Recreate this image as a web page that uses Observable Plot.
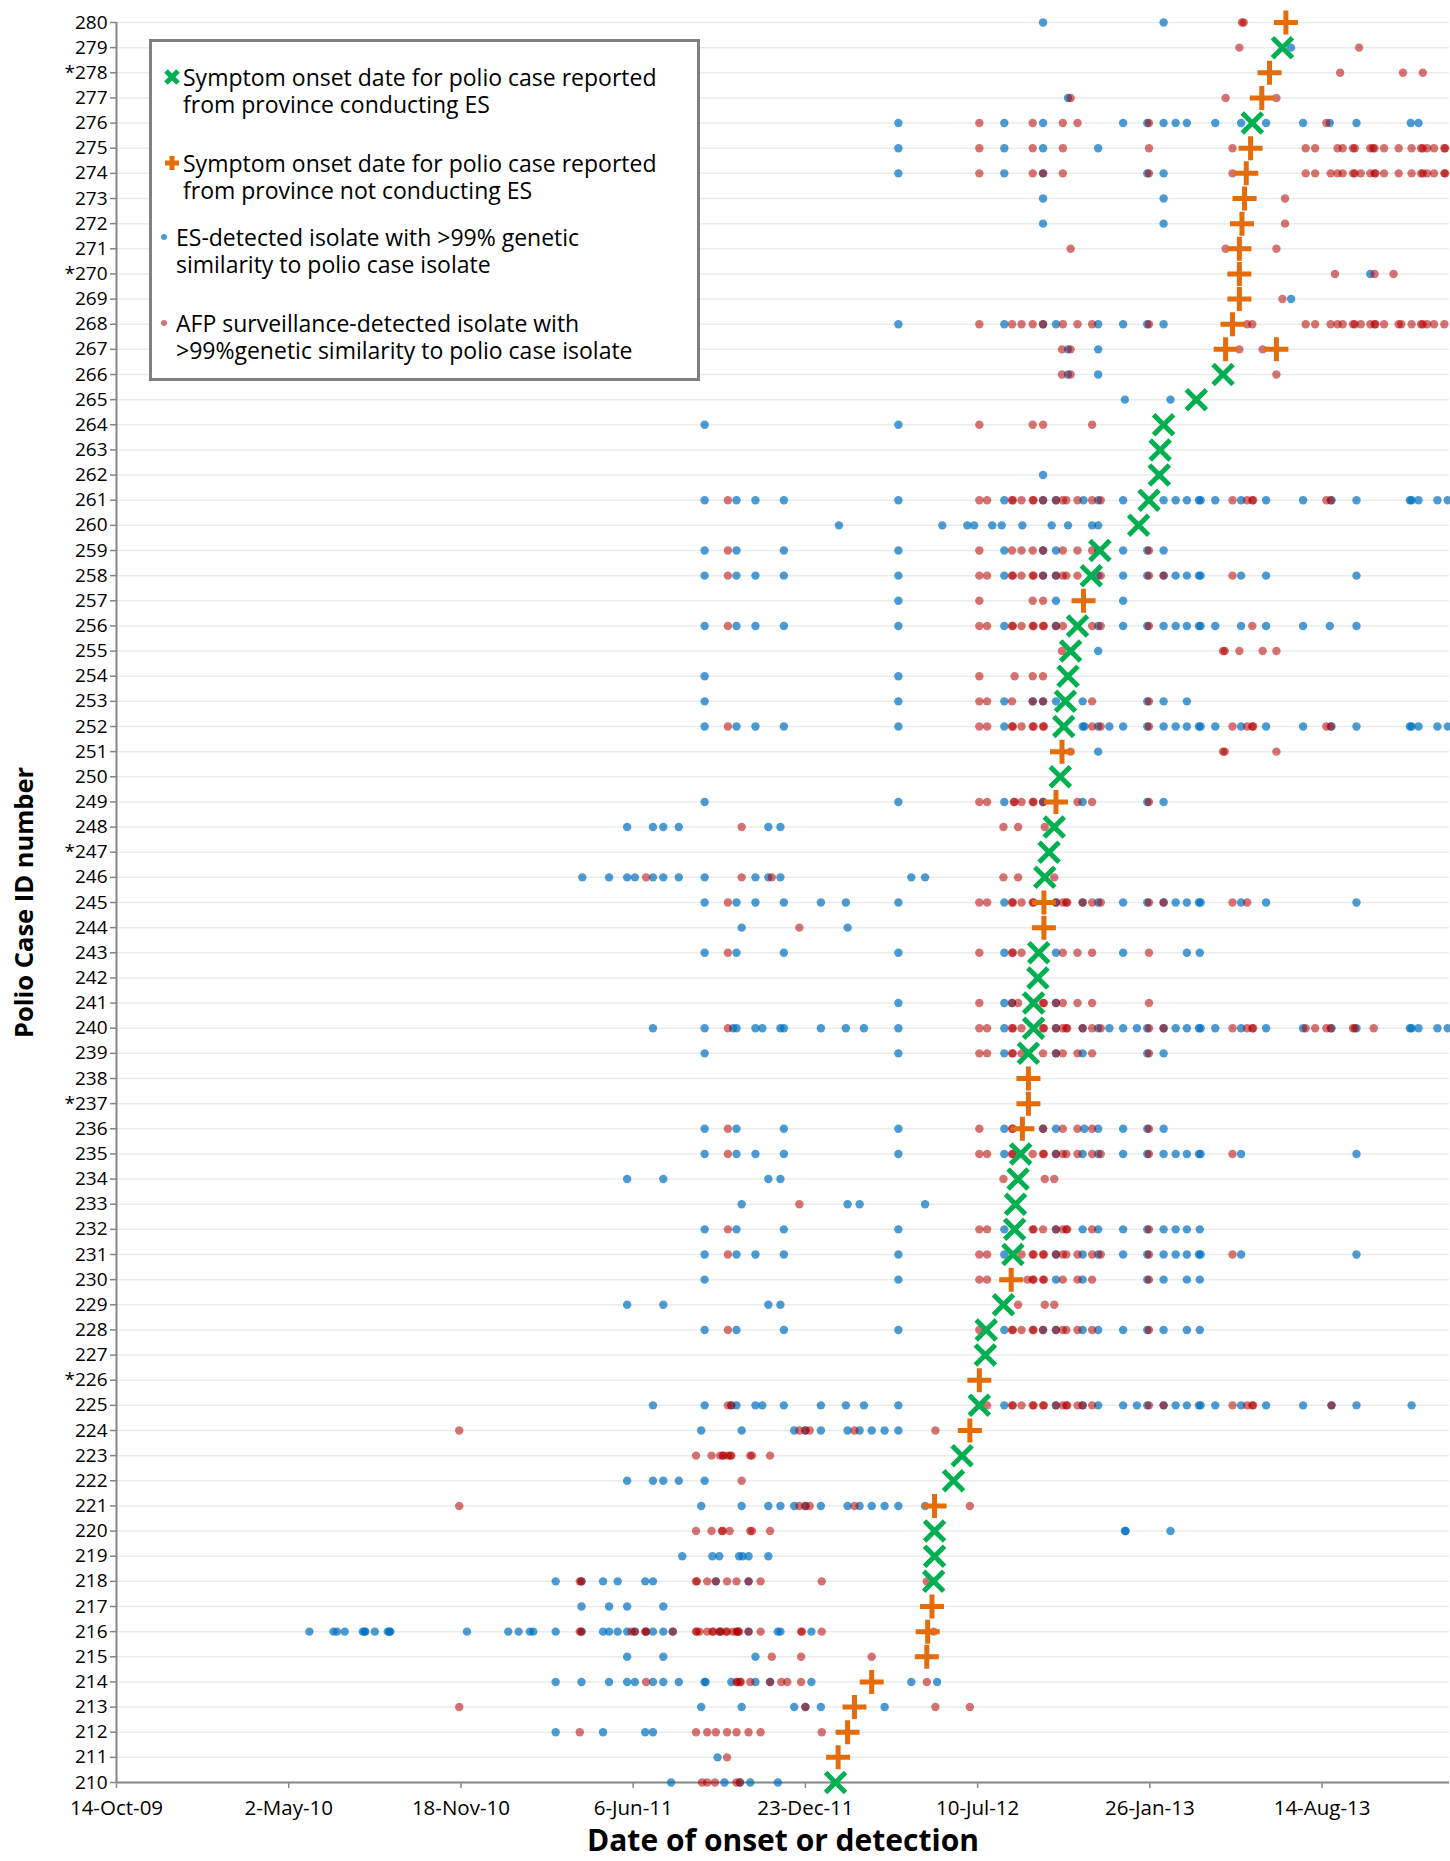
<!DOCTYPE html>
<html><head><meta charset="utf-8">
<script src="https://cdn.jsdelivr.net/npm/d3@7"></script>
<script src="https://cdn.jsdelivr.net/npm/@observablehq/plot@0.6"></script>
<style>
body{margin:0;background:#fff;font-family:"Open Sans",sans-serif;}
#wrap{position:relative;width:1450px;height:1861px;}
#legend{position:absolute;left:149px;top:39px;width:551px;height:342px;box-sizing:border-box;border:3px solid #808080;background:#fff;}
.line{position:absolute;font-size:23px;line-height:26px;height:26px;color:#000;white-space:nowrap;}
.sym{position:absolute;overflow:visible;}
g[aria-label="x-axis tick label"], g[aria-label="x-axis"] text {font-size:20.5px;}
g[aria-label="x-axis tick"], g[aria-label="y-axis tick"] {stroke:#868686;stroke-width:1.5;}
</style></head>
<body><div id="wrap"></div>
<script>
// values are days since 14-Oct-2009
const caseIds = d3.range(210, 281);
const starredIds = [226, 237, 247, 270, 278];
const tickDays = [0, 200, 400, 600, 800, 1000, 1200, 1400];

const onsetConductingES = [[210,835],[218,949],[219,950],[220,950],[222,972],[223,982],[225,1002],[227,1009],[228,1010],[229,1030],[231,1041],[232,1043],[233,1044],[234,1047],[235,1050],[239,1059],[240,1065],[241,1065],[242,1070],[243,1071],[246,1078],[247,1083],[248,1089],[250,1096],[252,1100],[253,1102],[254,1105],[255,1108],[256,1116],[258,1132],[259,1142],[260,1187],[261,1199],[262,1211],[263,1212],[264,1216],[265,1254],[266,1285],[276,1319],[279,1354]];

const onsetNotConductingES = [[211,838],[212,849],[213,857],[214,877],[215,941],[216,942],[217,947],[221,950],[224,991],[226,1002],[230,1039],[236,1052],[237,1059],[238,1059],[244,1077],[245,1077],[249,1091],[251,1098],[257,1123],[267,1288],[267,1347],[268,1296],[269,1304],[270,1304],[271,1304],[272,1307],[273,1310],[274,1312],[275,1317],[277,1330],[278,1339],[280,1358]];

const esIsolates = [
[280,[1076,1216]],
[279,[1364]],
[277,[1105]],
[276,[908,1031,1076,1169,1197,1216,1230,1243,1276,1306,1335,1378,1409,1440,1503,1512]],
[275,[908,1031,1076,1140]],
[274,[908,1031,1076,1197,1216]],
[273,[1076,1216]],
[272,[1076,1216]],
[270,[1456]],
[269,[1364]],
[268,[908,1031,1076,1091,1140,1169,1197,1216]],
[267,[1105,1140]],
[266,[1105,1140]],
[265,[1171,1224]],
[264,[683,908]],
[262,[1076]],
[261,[683,720,742,775,908,1031,1076,1091,1123,1140,1169,1216,1230,1243,1257,1259,1276,1306,1335,1378,1411,1440,1502,1504,1512,1534,1546]],
[260,[839,959,988,996,1017,1028,1052,1086,1105,1133,1140]],
[259,[683,720,775,908,1031,1076,1091,1140,1169,1197,1216]],
[258,[683,720,742,775,908,1031,1076,1091,1140,1169,1197,1216,1230,1243,1257,1259,1306,1335,1440]],
[257,[908,1091,1169]],
[256,[683,720,742,775,908,1031,1091,1140,1169,1197,1216,1230,1243,1257,1259,1276,1306,1335,1378,1409,1440]],
[255,[1140]],
[254,[683,908]],
[253,[683,908,1031,1064,1076,1091,1122,1197,1216,1243]],
[252,[683,720,742,775,908,1031,1122,1124,1140,1153,1169,1197,1216,1230,1243,1257,1259,1276,1306,1335,1378,1411,1440,1502,1504,1512,1534,1546]],
[251,[1140]],
[249,[683,908,1031,1076,1122,1197,1216]],
[248,[593,623,635,653,757,771]],
[246,[541,572,593,602,623,635,653,683,742,757,771,923,939]],
[245,[683,720,742,775,818,847,908,1031,1091,1122,1140,1169,1197,1216,1230,1243,1257,1259,1306,1335,1440]],
[244,[726,849]],
[243,[683,720,775,908,1031,1091,1169,1243,1258]],
[241,[908,1031,1040,1091]],
[240,[623,683,716,720,742,750,771,775,818,847,868,908,1031,1091,1122,1140,1153,1169,1185,1197,1216,1230,1243,1257,1259,1276,1306,1335,1378,1411,1440,1502,1504,1512,1534,1546]],
[239,[683,908,1031,1091,1122,1197,1216]],
[236,[683,720,775,908,1031,1076,1091,1124,1140,1169,1197,1216]],
[235,[683,720,742,775,908,1031,1091,1122,1140,1169,1197,1216,1230,1243,1257,1259,1306,1440]],
[234,[593,635,757,771]],
[233,[726,849,863,939]],
[232,[683,720,775,908,1031,1091,1122,1140,1169,1197,1216,1230,1243,1258]],
[231,[683,720,742,775,908,1031,1091,1122,1140,1169,1197,1216,1230,1243,1257,1259,1306,1440]],
[230,[683,908,1091,1122,1197,1216,1243,1258]],
[229,[593,635,757,771]],
[228,[683,720,775,908,1031,1076,1091,1122,1140,1169,1197,1216,1243,1258]],
[225,[623,683,714,720,742,750,775,818,847,868,908,1031,1091,1122,1140,1169,1185,1197,1216,1230,1243,1257,1259,1276,1306,1335,1378,1411,1440,1504]],
[224,[679,726,787,800,818,849,863,877,892,908]],
[222,[593,623,635,653,683]],
[221,[679,726,757,771,787,800,818,849,863,877,892,908,939]],
[220,[1171,1172,1224]],
[219,[657,692,700,723,727,734,757]],
[218,[510,540,565,582,614,623,696,734]],
[217,[540,572,593,635]],
[216,[224,252,256,265,286,288,289,300,315,317,318,407,455,467,480,484,510,540,565,572,582,593,602,615,623,635,646,701,734,768,771,807]],
[215,[593,635,742]],
[214,[510,540,572,593,602,623,635,653,683,684,714,742,759,807,923,953]],
[213,[679,726,787,800,818,892]],
[212,[510,565,614,623]],
[211,[698]],
[210,[644,706,724,736,768]]
];

const afpIsolates = [
[280,[1307,1309]],
[279,[1304,1443]],
[278,[1421,1494,1517]],
[277,[1108,1288,1347]],
[276,[1002,1064,1099,1116,1199,1405]],
[275,[1002,1064,1099,1199,1296,1381,1392,1418,1424,1436,1438,1456,1459,1461,1472,1489,1504,1515,1517,1522,1530,1542,1543]],
[274,[1002,1064,1076,1099,1199,1296,1381,1392,1410,1418,1424,1436,1438,1445,1456,1461,1462,1472,1489,1504,1515,1517,1522,1530,1542,1543]],
[273,[1357]],
[272,[1357]],
[271,[1108,1288,1347]],
[270,[1415,1461,1483]],
[269,[1354]],
[268,[1002,1040,1051,1064,1076,1099,1116,1133,1199,1313,1319,1381,1392,1410,1418,1424,1436,1438,1445,1456,1461,1462,1472,1489,1492,1504,1515,1517,1522,1530,1542]],
[267,[1098,1108,1304,1331]],
[266,[1098,1108,1347]],
[264,[1002,1064,1076,1133]],
[261,[710,1002,1011,1040,1041,1051,1064,1065,1076,1091,1099,1103,1116,1133,1143,1296,1313,1319,1320,1405,1410]],
[259,[710,1002,1040,1051,1064,1076,1099,1116,1133,1199]],
[258,[710,1002,1011,1040,1041,1051,1064,1065,1076,1091,1099,1103,1116,1143,1199,1216,1296]],
[257,[1002,1064,1076]],
[256,[710,1002,1011,1040,1041,1051,1064,1065,1076,1077,1091,1099,1133,1143,1199,1319]],
[255,[1098,1285,1287,1304,1331,1347]],
[254,[1002,1043,1064,1076]],
[253,[1002,1011,1040,1064,1076,1133,1199]],
[252,[710,1002,1011,1040,1041,1051,1064,1065,1076,1077,1133,1143,1199,1296,1313,1319,1320,1405,1410]],
[251,[1108,1285,1287,1347]],
[249,[1002,1011,1042,1043,1051,1064,1065,1076,1116,1133,1199]],
[248,[726,1030,1047,1078]],
[246,[615,726,761,1030,1047,1089]],
[245,[710,1002,1011,1040,1041,1051,1064,1065,1091,1099,1103,1104,1122,1133,1143,1199,1216,1296,1313]],
[244,[793]],
[243,[710,1002,1040,1041,1051,1099,1116,1133,1199]],
[241,[1002,1040,1047,1076,1077,1091,1099,1116,1133,1199]],
[240,[710,1002,1011,1040,1041,1051,1076,1077,1091,1099,1103,1104,1122,1133,1143,1199,1216,1296,1313,1319,1320,1381,1392,1405,1410,1436,1438,1460]],
[239,[1002,1011,1040,1041,1051,1076,1091,1099,1116,1133,1199]],
[236,[710,1002,1040,1041,1076,1099,1116,1133,1199]],
[235,[710,1002,1011,1040,1041,1064,1076,1077,1091,1099,1103,1116,1133,1143,1199,1296]],
[234,[1030,1078,1089]],
[233,[793]],
[232,[710,1002,1011,1064,1065,1076,1091,1099,1103,1104,1133,1199]],
[231,[710,1002,1011,1051,1064,1065,1076,1077,1091,1099,1103,1116,1133,1143,1199,1296]],
[230,[1002,1011,1058,1064,1065,1076,1077,1099,1116,1133,1199]],
[229,[1047,1078,1089]],
[228,[710,1002,1040,1041,1051,1064,1065,1076,1091,1099,1103,1116,1133,1199]],
[225,[710,714,1011,1040,1041,1051,1064,1065,1076,1077,1091,1099,1103,1104,1116,1122,1133,1199,1216,1296,1313,1319,1320,1411]],
[224,[398,793,800,805,857,951]],
[223,[673,691,701,704,705,710,713,714,736,738,759]],
[222,[726]],
[221,[398,793,800,805,857,991]],
[220,[673,691,703,704,712,736,738,759]],
[218,[538,540,673,674,686,696,709,720,734,748,819,941]],
[216,[538,540,598,602,614,615,646,673,674,677,686,692,693,700,702,708,709,716,720,721,722,723,734,748,795,796,819,949]],
[215,[761,795,877]],
[214,[615,720,721,724,725,736,759,772,779,795,941]],
[213,[398,800,951,991]],
[212,[538,673,686,696,709,720,734,748,819]],
[211,[709]],
[210,[680,686,695,720,724]]
];

const legendLabels = [
  ["Symptom onset date for polio case reported", "from province conducting ES"],
  ["Symptom onset date for polio case reported", "from province not conducting ES"],
  ["ES-detected isolate with >99% genetic", "similarity to polio case isolate"],
  ["AFP surveillance-detected isolate with", ">99%genetic similarity to polio case isolate"]
];

const base = Date.UTC(2009, 9, 14);
const day = d => new Date(base + d * 864e5);

const esDots = esIsolates.flatMap(([id, days]) => days.map(d => ({id, date: day(d)})));
const afpDots = afpIsolates.flatMap(([id, days]) => days.map(d => ({id, date: day(d)})));
const esCases = onsetConductingES.map(([id, d]) => ({id, date: day(d)}));
const nonEsCases = onsetNotConductingES.map(([id, d]) => ({id, date: day(d)}));

const plusSymbol = {draw(ctx, size) { const r = Math.sqrt(size / Math.PI); ctx.moveTo(-r, 0); ctx.lineTo(r, 0); ctx.moveTo(0, -r); ctx.lineTo(0, r); }};
const timesSymbol = {draw(ctx, size) { const r = Math.sqrt(size / Math.PI); ctx.moveTo(-r, -r); ctx.lineTo(r, r); ctx.moveTo(r, -r); ctx.lineTo(-r, r); }};

const chart = Plot.plot({
  width: 1450, height: 1861,
  marginLeft: 116, marginRight: 1, marginTop: 22, marginBottom: 79,
  style: {fontFamily: "Open Sans", fontSize: "19px", color: "#000", background: "#fff", overflow: "visible"},
  x: {type: "utc", domain: [day(0), day(1548)], ticks: tickDays.map(day), tickFormat: d3.utcFormat("%-d-%b-%y"), tickSize: 6, tickPadding: 12, label: null},
  y: {domain: [210, 280], ticks: caseIds, tickFormat: d => (starredIds.includes(d) ? "*" : "") + d, tickSize: 6, tickPadding: 3, label: null},
  marks: [
    Plot.ruleY(caseIds, {stroke: "#ebebeb", strokeWidth: 1.5}),
    Plot.ruleX([day(0)], {stroke: "#868686", strokeWidth: 2}),
    Plot.ruleY([210], {stroke: "#868686", strokeWidth: 2}),
    Plot.dot(esDots, {x: "date", y: "id", r: 4.2, fill: "#0070c0", fillOpacity: 0.7}),
    Plot.dot(afpDots, {x: "date", y: "id", r: 4.2, fill: "#b40000", fillOpacity: 0.55}),
    Plot.dot(nonEsCases, {x: "date", y: "id", symbol: plusSymbol, r: 12, fill: "none", stroke: "#e46c0a", strokeWidth: 5}),
    Plot.dot(esCases, {x: "date", y: "id", symbol: timesSymbol, r: 10, fill: "none", stroke: "#00b050", strokeWidth: 5}),
    Plot.text(["Date of onset or detection"], {frameAnchor: "bottom", dy: 59, lineAnchor: "middle", textAnchor: "middle", fontSize: 30, fontWeight: "bold", fill: "#000"}),
    Plot.text(["Polio Case ID number"], {frameAnchor: "left", dx: -92, rotate: -90, textAnchor: "middle", lineAnchor: "middle", fontSize: 25.5, fontWeight: "bold", fill: "#000"})
  ]
});

const wrap = document.getElementById("wrap");
wrap.appendChild(chart);

// legend overlay
const legend = document.createElement("div");
legend.id = "legend";
const pos = [{left: 31, top: 22}, {left: 31, top: 108}, {left: 24, top: 182}, {left: 24, top: 268}];
legendLabels.forEach((lines, i) => {
  lines.forEach((text, j) => {
    const div = document.createElement("div");
    div.className = "line";
    div.style.left = pos[i].left + "px";
    div.style.top = (pos[i].top + j * 27) + "px";
    div.textContent = text;
    legend.appendChild(div);
  });
});
const ns = "http://www.w3.org/2000/svg";
function sym(cx, cy, build) {
  const s = document.createElementNS(ns, "svg");
  s.setAttribute("class", "sym");
  s.setAttribute("width", 24); s.setAttribute("height", 24);
  s.style.left = (cx - 12) + "px"; s.style.top = (cy - 12) + "px";
  s.innerHTML = build;
  legend.appendChild(s);
}
sym(20, 35, '<path d="M6,6L18,18M18,6L6,18" stroke="#00b050" stroke-width="5"/>');
sym(20, 121, '<path d="M5,12H19M12,5V19" stroke="#e46c0a" stroke-width="5"/>');
sym(12, 195, '<circle cx="12" cy="12" r="3" fill="#0070c0" fill-opacity="0.7"/>');
sym(12, 281, '<circle cx="12" cy="12" r="3" fill="#b40000" fill-opacity="0.55"/>');
wrap.appendChild(legend);
</script></body></html>
